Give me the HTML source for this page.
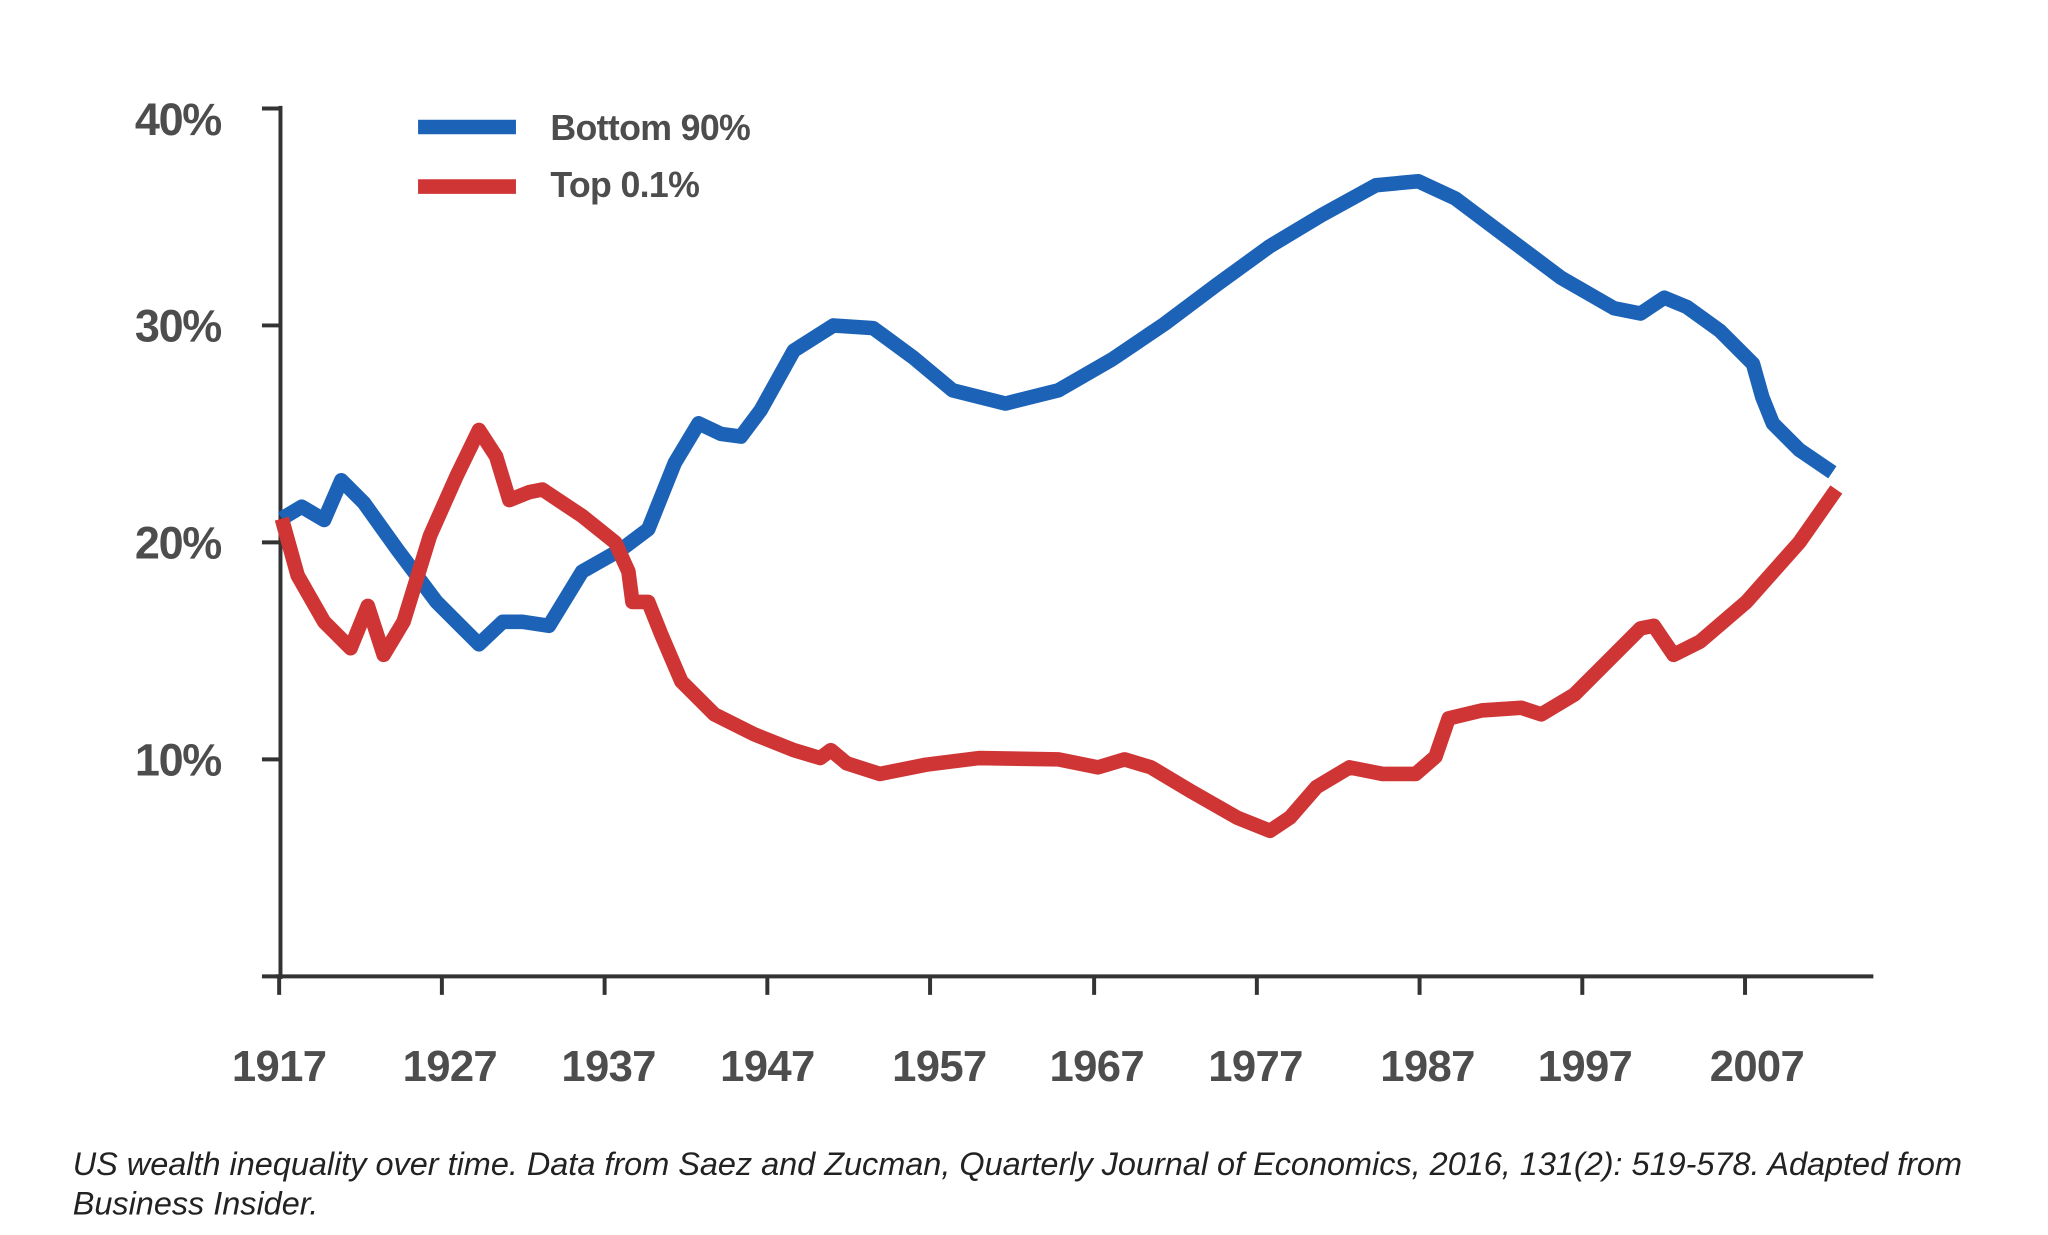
<!DOCTYPE html>
<html><head><meta charset="utf-8"><style>
html,body{margin:0;padding:0;background:#fff;width:2048px;height:1235px;overflow:hidden}
svg{display:block}
</style></head><body>
<svg width="2048" height="1235" viewBox="0 0 1548 933.5" preserveAspectRatio="none" xmlns="http://www.w3.org/2000/svg">
<rect width="1548" height="934" fill="#fff"/>
<g font-family="Liberation Sans, sans-serif" font-weight="bold" fill="#4d4d4d" font-size="34" text-anchor="end" letter-spacing="-1">
<text x="167" y="102">40%</text>
<text x="167" y="258">30%</text>
<text x="167" y="422">20%</text>
<text x="167" y="586">10%</text>
</g>
<g stroke="#333" stroke-width="3" fill="none">
<line x1="212" y1="80" x2="212" y2="740"/>
<line x1="208" y1="738" x2="1416" y2="738"/>
<line x1="198" y1="82" x2="212" y2="82"/>
<line x1="198" y1="246" x2="212" y2="246"/>
<line x1="198" y1="410" x2="212" y2="410"/>
<line x1="198" y1="574" x2="212" y2="574"/>
<line x1="198" y1="738" x2="212" y2="738"/>
</g>
<g stroke="#333" stroke-width="3">
<line x1="211" y1="738" x2="211" y2="752"/><line x1="334" y1="738" x2="334" y2="752"/><line x1="457" y1="738" x2="457" y2="752"/><line x1="580" y1="738" x2="580" y2="752"/><line x1="703" y1="738" x2="703" y2="752"/><line x1="827" y1="738" x2="827" y2="752"/><line x1="950" y1="738" x2="950" y2="752"/><line x1="1073" y1="738" x2="1073" y2="752"/><line x1="1196" y1="738" x2="1196" y2="752"/><line x1="1319" y1="738" x2="1319" y2="752"/>
</g>
<g font-family="Liberation Sans, sans-serif" font-weight="bold" fill="#4d4d4d" font-size="33" text-anchor="middle" letter-spacing="-0.5">
<text x="211" y="817">1917</text><text x="340" y="817">1927</text><text x="460" y="817">1937</text><text x="580" y="817">1947</text><text x="710" y="817">1957</text><text x="829" y="817">1967</text><text x="949" y="817">1977</text><text x="1079" y="817">1987</text><text x="1198" y="817">1997</text><text x="1328" y="817">2007</text>
</g>
<line x1="316" y1="96" x2="390" y2="96" stroke="#1c63b8" stroke-width="11"/>
<line x1="316" y1="141" x2="390" y2="141" stroke="#d03535" stroke-width="11"/>
<g font-family="Liberation Sans, sans-serif" font-weight="bold" fill="#4d4d4d" font-size="27" letter-spacing="-0.5">
<text x="416" y="106">Bottom 90%</text>
<text x="416" y="149">Top 0.1%</text>
</g>
<polyline fill="none" stroke="#1c63b8" stroke-width="11" stroke-linejoin="round" stroke-linecap="butt" points="213,392 228,383 245,393 258,363 275,380 300,415 330,455 362,487 380,470 395,470 415,473 440,432 470,415 490,400 510,350 528,320 545,328 560,330 575,310 600,265 630,246 660,248 690,270 720,295 760,305 800,295 840,272 880,245 920,215 960,186 1000,162 1040,140 1072,137 1100,150 1140,180 1180,210 1220,233 1240,237 1258,225 1275,232 1300,250 1325,275 1332,300 1340,320 1360,340 1385,357"/>
<polyline fill="none" stroke="#d03535" stroke-width="11" stroke-linejoin="round" stroke-linecap="butt" points="213,392 225,435 245,470 265,490 278,458 290,495 305,470 325,405 345,360 362,325 375,345 385,378 400,372 410,370 440,390 465,410 475,432 478,455 490,455 500,480 515,515 540,540 570,555 600,567 620,573 628,567 640,577 665,585 700,578 740,573 800,574 830,580 850,574 870,580 900,598 935,618 960,628 975,618 995,595 1020,580 1045,585 1070,585 1085,572 1095,543 1120,537 1150,535 1165,540 1190,525 1215,500 1240,475 1250,473 1265,495 1285,485 1320,455 1360,410 1388,370"/>
<g font-family="Liberation Sans, sans-serif" font-style="italic" fill="#222" font-size="24.5">
<text x="55" y="888" textLength="1428" lengthAdjust="spacingAndGlyphs">US wealth inequality over time. Data from Saez and Zucman, Quarterly Journal of Economics, 2016, 131(2): 519-578. Adapted from</text>
<text x="55" y="918">Business Insider.</text>
</g>
</svg>
</body></html>
